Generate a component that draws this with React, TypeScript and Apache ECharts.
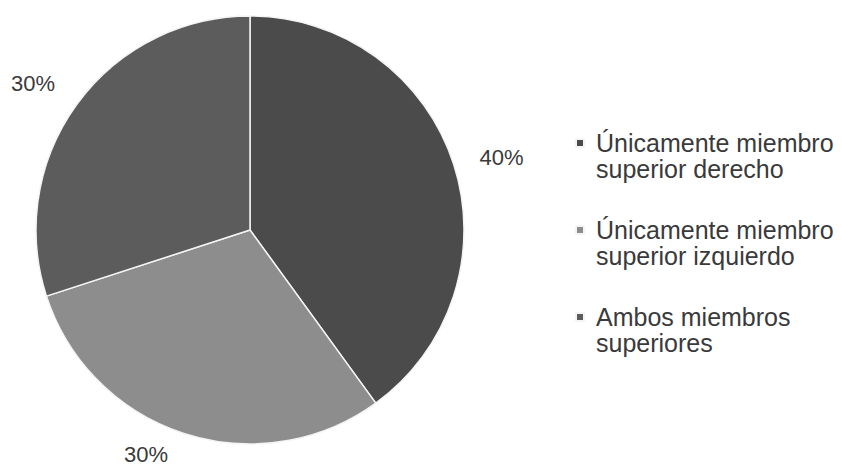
import React, { useEffect, useRef } from "react";
import * as echarts from "echarts";

const categories = [
  "Únicamente miembro\nsuperior derecho",
  "Únicamente miembro\nsuperior izquierdo",
  "Ambos miembros\nsuperiores",
];
const values = [40, 30, 30];
const colors = ["#4b4b4b", "#8d8d8d", "#5c5c5c"];

const LH = 26;

export default function App() {
  const ref = useRef<HTMLDivElement>(null);
  useEffect(() => {
    if (!ref.current) return;
    const chart = echarts.init(ref.current, undefined, { renderer: "svg" });
    chart.setOption({
      animation: false,
      backgroundColor: "#ffffff",
      textStyle: { fontFamily: "Liberation Sans, Arial, sans-serif" },
      legend: {
        orient: "vertical",
        left: 562,
        top: 91,
        icon: "path://M0 0H1V1H0Z",
        symbolKeepAspect: true,
        itemWidth: 22,
        itemHeight: 8,
        itemGap: 9,
        formatter: (name: string) => " \n" + name,
        textStyle: {
          fontSize: 25,
          color: "#3a3a3a",
          lineHeight: LH,
        },
        data: categories,
      },
      series: [
        {
          type: "pie",
          center: [242, 222],
          radius: 214,
          startAngle: 90,
          clockwise: true,
          itemStyle: { borderColor: "#f4f4f4", borderWidth: 1.5 },
          label: {
            show: true,
            position: "outside",
            formatter: "{d}%",
            fontSize: 22,
            color: "#3a3a3a",
            overflow: "none",
          },
          labelLine: { show: false, length: 22, length2: 0 },
          labelLayout: (p: any) =>
            p.dataIndex === 1 ? { dy: 0, dx: -4 } : p.dataIndex === 2 ? { dx: 1, dy: -8 } : {},
          emphasis: { disabled: true },
          data: categories.map((c, i) => ({
            name: c,
            value: values[i],
            itemStyle: { color: colors[i] },
          })),
        },
      ],
    });
    return () => chart.dispose();
  }, []);
  return <div ref={ref} style={{ width: 834, height: 460 }} />;
}
